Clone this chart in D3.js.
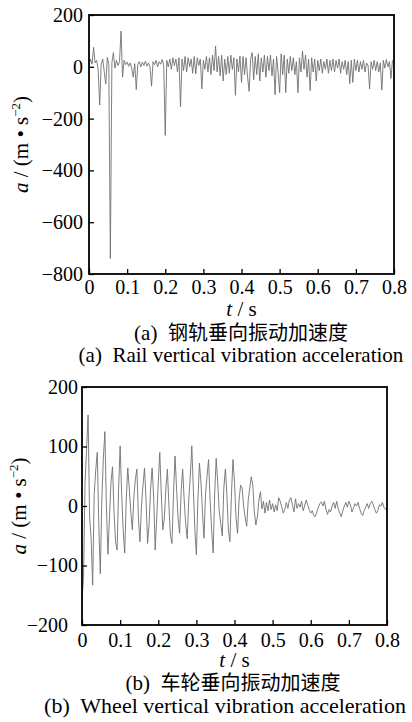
<!DOCTYPE html>
<html>
<head>
<meta charset="utf-8">
<script src="https://cdn.jsdelivr.net/npm/d3@7"></script>
<style>
body { margin: 0; background: #fff; }
</style>
</head>
<body>
<div id="main_graphs"></div>
<script>
// time step of the read-off samples (s)
const sampleStep = 0.004
const serif = "'Liberation Serif', 'Times New Roman', serif"
const cjk = "'Noto Sans CJK SC', sans-serif"

// (a) rail vertical vibration acceleration, m/s^2, one value per sample
const railAccel = [
  5, 30, 10, 75, 15, 25, -10, -148, 10, 30,
  -20, -67, 36, 10, -740, 15, 55, -5, 25, 5,
  20, 138, -40, 25, 8, 18, 2, 15, -5, -40,
  12, -88, 10, 20, 0, 18, 5, 22, 2, 15,
  0, -75, 20, 8, 25, 0, 20, 10, 28, 5,
  -265, 25, 0, 30, -10, 35, 5, 30, -20, 35,
  -155, 30, -15, 40, -20, 35, 0, 30, -25, 40,
  -28, 35, 5, 30, -85, 25, -10, 40, -20, 35,
  -30, 45, -15, 80, -20, 40, -35, 45, -55, 30,
  -30, 40, -25, 45, -10, 35, -110, 30, -20, 42,
  -60, 40, -30, 35, -40, -95, 30, 55, -50, 40,
  -30, 50, -55, 35, -20, 45, -40, 40, -15, 45,
  -35, 30, -108, 40, -20, -100, 50, -30, 45, -100,
  30, -25, 40, -15, 35, -30, 20, -100, 35, -20,
  60, -10, 45, -40, 30, -92, 35, -20, 30, -55,
  25, -15, 30, -25, 20, -10, 30, -25, 25, -15,
  30, -20, 25, -5, 30, -25, 20, -10, 25, -30,
  20, -65, 25, -60, 30, -15, 25, -20, 20, -10,
  25, -20, 15, 5, -85, 20, -10, 25, -15, 20,
  -20, 15, -90, 25, -5, 28, 0, 20, -45, 25
]

// (b) wheel vertical vibration acceleration, m/s^2
const wheelAccel = [
  -160, -120, 40, 95, 153, -20, -55, -133, 20, 60,
  90, -30, -114, 10, 80, 125, 0, -81, -20, 40,
  66, -10, -60, -74, 30, 101, 20, -40, -79, 10,
  64, 30, -10, -40, 15, 45, 62, -20, -60, 0,
  35, 64, 10, -63, -30, 30, 64, 15, -74, -20,
  40, 90, 20, -40, -20, 30, 62, 0, -50, -63,
  20, 84, 30, -20, -46, 25, 62, 10, -30, -55,
  10, 50, 101, 30, -40, -82, 10, 72, 40, -10,
  -54, 20, 50, 78, 10, -40, -79, 20, 80, 40,
  -10, -30, -50, 30, 62, 20, -40, -60, 20, 78,
  40, -20, -46, 10, 35, 30, 0, -20, -34, 10,
  30, 49, 35, -10, -32, -18, 10, 24, -5, 8,
  -12, 6, -8, 10, -6, 4, -10, 2, -8, 14,
  8, -2, -12, -6, 6, -4, 10, 14, 2, -10,
  12, -4, 4, -2, 8, -8, 0, 10, 2, -6,
  -12, -8, -16, -18, -10, -2, 4, 7, 0, 8,
  -6, -14, -6, -10, 0, 6, -4, 8, -4, -12,
  -18, -8, 0, 6, -2, 8, 2, -10, -4, 4,
  0, 6, -4, -12, -16, -8, -2, 4, -4, 4,
  8, 2, -6, -12, -8, 2, 0, 6, -2, -6, -4
]

const timeTicks = [0, 0.1, 0.2, 0.3, 0.4, 0.5, 0.6, 0.7, 0.8]
const railTicks = [200, 0, -200, -400, -600, -800]
const wheelTicks = [200, 100, 0, -100, -200]

const svg = d3.select('#main_graphs')
  .append("svg")
  .attr("width", 412)
  .attr("height", 722)
  .style("font-family", serif)

function drawPanel(data, yTicks, box, caps) {

  var x = d3.scaleLinear()
    .domain([0, 0.8])
    .range([box.left, box.right]);

  var y = d3.scaleLinear()
    .domain([yTicks[yTicks.length - 1], yTicks[0]])
    .range([box.bottom, box.top]);

  // signal
  svg.append("path")
    .datum(data)
    .attr("fill", "none")
    .attr("stroke", "#707070")
    .attr("stroke-width", 0.9)
    .attr("stroke-linejoin", "round")
    .attr("d", d3.line()
      .x(function (d, i) { return x(i * sampleStep); })
      .y(function (d) { return y(d); }));

  // x axis, ticks pointing inward
  const xa = svg.append("g")
    .attr("transform", "translate(0," + box.bottom + ")")
    .call(d3.axisBottom(x)
      .tickValues(timeTicks)
      .tickSizeInner(-5)
      .tickSizeOuter(0)
      .tickPadding(box.xPad)
      .tickFormat(function (d) { return d === 0 ? "0" : d3.format(".1f")(d); }))
  xa.attr("font-family", null).attr("font-size", null)
  xa.select(".domain").remove()
  xa.selectAll("line").attr("stroke", "#000").attr("stroke-width", 1.3)
  xa.selectAll("text").attr("fill", "#000").style("font-family", serif).style("font-size", "20px")

  // y axis
  const ya = svg.append("g")
    .attr("transform", "translate(" + box.left + ",0)")
    .call(d3.axisLeft(y)
      .tickValues(yTicks)
      .tickSizeInner(-5)
      .tickSizeOuter(0)
      .tickPadding(box.yPad))
  ya.attr("font-family", null).attr("font-size", null)
  ya.select(".domain").remove()
  ya.selectAll("line").attr("stroke", "#000").attr("stroke-width", 1.3)
  ya.selectAll("text").attr("fill", "#000").style("font-family", serif).style("font-size", "20px")
  // lowest label pushed left so it clears the "0" of the time axis
  ya.selectAll(".tick text")
    .filter(function (d) { return d === yTicks[yTicks.length - 1]; })
    .attr("dx", box.lastDx)

  // frame
  svg.append("rect")
    .attr("x", box.left)
    .attr("y", box.top)
    .attr("width", box.right - box.left)
    .attr("height", box.bottom - box.top)
    .attr("fill", "none")
    .attr("stroke", "#000")
    .attr("stroke-width", 1.8)

  // y label: a / (m • s^-2)
  const yl = svg.append("text")
    .attr("transform", "translate(" + box.yLabelX + "," + ((box.top + box.bottom) / 2) + ") rotate(-90)")
    .attr("text-anchor", "middle")
    .style("font-family", serif)
    .style("font-size", "21px")
  yl.append("tspan").style("font-style", "italic").text("a")
  yl.append("tspan").text(" / (m • s")
  yl.append("tspan").attr("dy", -8).style("font-size", "13px").text("−2")
  yl.append("tspan").attr("dy", 8).text(")")

  // x label: t / s
  const xl = svg.append("text")
    .attr("x", (box.left + box.right) / 2)
    .attr("y", caps.tY)
    .attr("text-anchor", "middle")
    .style("font-family", serif)
    .style("font-size", "21px")
  xl.append("tspan").style("font-style", "italic").text("t")
  xl.append("tspan").text(" / s")

  // captions
  const cn = svg.append("text")
    .attr("x", caps.cnX)
    .attr("y", caps.cnY)
    .attr("text-anchor", "middle")
    .style("font-size", "20px")
    .style("white-space", "pre")
  cn.append("tspan").style("font-family", serif).style("font-size", "21px").text(caps.tag + "  ")
  cn.append("tspan").style("font-family", cjk).text(caps.cn)

  svg.append("text")
    .attr("x", caps.enX)
    .attr("y", caps.enY)
    .attr("text-anchor", "middle")
    .style("font-family", serif)
    .style("font-size", caps.enSize + "px")
    .style("white-space", "pre")
    .text(caps.tag + "  " + caps.en)
}

drawPanel(railAccel, railTicks,
  {left: 89, right: 394, top: 15, bottom: 274, xPad: 6, yPad: 6, lastDx: 0, yLabelX: 28},
  {tY: 316, tag: "(a)", cn: "钢轨垂向振动加速度", cnX: 241, cnY: 340,
   en: "Rail vertical vibration acceleration", enX: 241, enY: 362, enSize: 21})

drawPanel(wheelAccel, wheelTicks,
  {left: 82, right: 387, top: 387, bottom: 625, xPad: 8, yPad: 4, lastDx: -10, yLabelX: 26},
  {tY: 667, tag: "(b)", cn: "车轮垂向振动加速度", cnX: 233, cnY: 690,
   en: "Wheel vertical vibration acceleration", enX: 225, enY: 713, enSize: 22})
</script>
</body>
</html>
